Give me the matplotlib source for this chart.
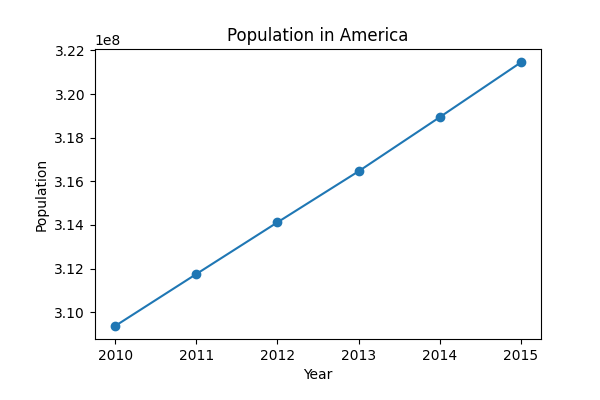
import matplotlib
matplotlib.use('Agg')
import matplotlib.pyplot as plt

anos = [2010, 2011, 2012, 2013, 2014, 2015]
populacao = [309.37e6, 311.75e6, 314.12e6, 316.46e6, 318.94e6, 321.45e6]

fig = plt.figure(figsize=(6, 4), dpi=100)
plt.subplots_adjust(left=0.158, right=0.902, top=0.877, bottom=0.152)
plt.plot(anos, populacao, 'o-', color='#1f77b4')
plt.title('Population in America')
plt.xlabel('Year')
plt.ylabel('Population')
plt.savefig('out.png')
